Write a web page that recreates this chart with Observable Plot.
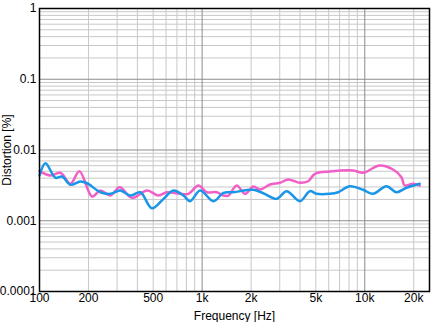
<!DOCTYPE html>
<html><head><meta charset="utf-8">
<script src="https://cdn.jsdelivr.net/npm/d3@7"></script>
<script src="https://cdn.jsdelivr.net/npm/@observablehq/plot@0.6"></script>
<style>body{margin:0;background:#fff}svg{font-family:"Liberation Sans",Arial,sans-serif}</style>
</head><body><div id="c"></div>
<script>
const blueFreq = [100,108.8,125.4,137.8,155,178.4,196.2,236.7,272.7,314,361.6,416.6,491.3,578.8,666.8,768,844,972,1173,1351,1556,2064,2377,2873,3308,3993,4598,5054,6099,6859,8091,9763,11240,13590,15650,18030,21750];
const blueVal = [0.00436,0.00651,0.00405,0.00422,0.00322,0.00359,0.00339,0.00253,0.0024,0.00268,0.00227,0.00253,0.0015,0.00204,0.00268,0.00227,0.00189,0.00268,0.00189,0.00248,0.00253,0.00274,0.00245,0.00204,0.00262,0.00189,0.00262,0.0024,0.0024,0.00253,0.00308,0.00274,0.0024,0.00308,0.00253,0.00292,0.00333];
const pinkFreq = [100,116.8,134.5,155,176,210.6,236.7,272.7,310.9,370.4,457.8,539.4,607.4,732.8,824,949,1069,1231,1351,1450,1633,1835,2064,2269,2614,3010,3384,3993,4488,4935,6099,8478,9763,12360,14920,16800,17600,19790,21750];
const pinkVal = [0.00502,0.00436,0.00476,0.00333,0.00502,0.0022,0.00268,0.00227,0.00298,0.00211,0.00268,0.00227,0.00253,0.0024,0.0024,0.00315,0.00253,0.00253,0.00227,0.00227,0.00315,0.0024,0.00305,0.00276,0.00325,0.00344,0.00383,0.00344,0.00362,0.00461,0.00497,0.00513,0.00476,0.00604,0.0053,0.00413,0.00315,0.00333,0.00315];
const xTicks = [100,200,500,1000,2000,5000,10000,20000];
const xTickLabels = ["100","200","500","1k","2k","5k","10k","20k"];
const yTicks = [1,0.1,0.01,0.001,0.0001];
const yTickLabels = ["1","0.1","0.01","0.001","0.0001"];

const xMinor = [], yMinor = [];
for (const d of [100,1000,10000]) for (let k=2;k<=9;k++) if (d*k<=25000) xMinor.push(d*k);
for (const d of [0.0001,0.001,0.01,0.1]) for (let k=2;k<=9;k++) yMinor.push(d*k);
const xMajor = [1000,10000], yMajor = [0.1,0.01,0.001];

const blue = blueFreq.map((f,i)=>({f, v: blueVal[i]}));
const pink = pinkFreq.map((f,i)=>({f, v: pinkVal[i]}));
const xt = xTicks.map((v,i)=>({v, t: xTickLabels[i]}));
const yt = yTicks.map((v,i)=>({v, t: yTickLabels[i]}));

const chart = Plot.plot({
  width: 437, height: 322,
  marginLeft: 39, marginRight: 8, marginTop: 8, marginBottom: 31,
  style: {fontSize: "12px", fontFamily: "Liberation Sans, Arial, sans-serif", color: "#000", background: "#fff", overflow: "visible"},
  x: {type: "log", domain: [100, 25000], axis: null},
  y: {type: "log", domain: [0.0001, 1], axis: null},
  marks: [
    Plot.ruleX(xMinor, {stroke: "#c8c8c8", strokeOpacity: 1}),
    Plot.ruleY(yMinor, {stroke: "#c8c8c8", strokeOpacity: 1}),
    Plot.ruleX(xMajor, {stroke: "#8c8c8c", strokeOpacity: 1}),
    Plot.ruleY(yMajor, {stroke: "#8c8c8c", strokeOpacity: 1}),
    Plot.text(xt, {x: "v", text: "t", frameAnchor: "bottom", dy: 10, fontSize: 12, fill: "#000"}),
    Plot.text(yt, {y: "v", text: "t", frameAnchor: "left", textAnchor: "end", dx: -3, fontSize: 12, fill: "#000"}),
    Plot.text(["Frequency [Hz]"], {text: d=>d, frameAnchor: "bottom", dy: 28, fontSize: 12, fill: "#000"}),
    Plot.text(["Distortion [%]"], {text: d=>d, frameAnchor: "left", textAnchor: "middle", rotate: -90, dx: -32, fontSize: 12, fill: "#000"}),
    Plot.line(pink, {x: "f", y: "v", stroke: "#f25fc6", strokeWidth: 2.5, curve: "catmull-rom"}),
    Plot.line(blue, {x: "f", y: "v", stroke: "#1996e8", strokeWidth: 2.5, curve: "catmull-rom"}),
    Plot.frame({stroke: "#000", strokeWidth: 1.5})
  ]
});
document.getElementById("c").appendChild(chart);
</script></body></html>
